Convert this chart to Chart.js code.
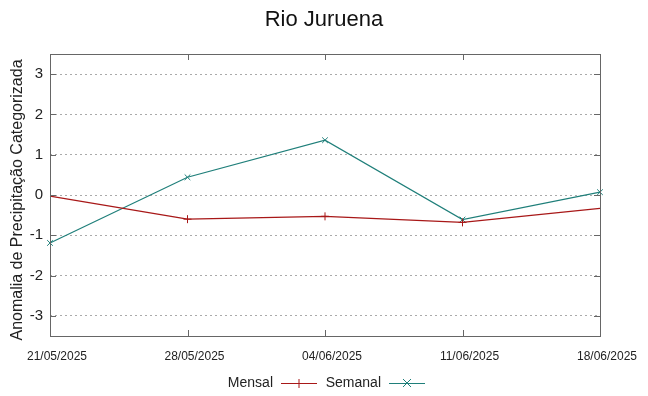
<!DOCTYPE html>
<html>
<head>
<meta charset="utf-8">
<script src="https://cdn.jsdelivr.net/npm/chart.js@4.4.1/dist/chart.umd.min.js"></script>
<style>
  html, body { margin: 0; padding: 0; background: #fff; }
  #wrap { width: 648px; height: 396px; }
</style>
</head>
<body>
<div id="wrap"><canvas id="chart" width="648" height="396"></canvas></div>
<script>
// ====== Data ======
const dates = ['21/05/2025', '28/05/2025', '04/06/2025', '11/06/2025', '18/06/2025'];
const mensal = [-0.03, -0.60, -0.53, -0.68, -0.33];
const semanal = [-1.19, 0.44, 1.36, -0.61, 0.07];
const yTicks = [-3, -2, -1, 0, 1, 2, 3];
const chartTitle = 'Rio Juruena';
const yTitle = 'Anomalia de Precipitação Categorizada';

const RED = '#a81818';
const TEAL = '#1f7f7a';
const FONT = "'Liberation Sans', Arial, sans-serif";

// ====== Title, frame, inward ticks and gnuplot-style legend ======
const gnuplotFrame = {
    id: 'gnuplotFrame',
    afterDatasetsDraw(chart) {
        const { ctx, chartArea: a, scales } = chart;
        ctx.save();

        // titles
        ctx.fillStyle = '#111';
        ctx.textAlign = 'center';
        ctx.textBaseline = 'middle';
        ctx.font = '22px ' + FONT;
        ctx.fillText(chartTitle, 324, 20);
        ctx.save();
        ctx.translate(18, 200);
        ctx.rotate(-Math.PI / 2);
        ctx.font = '16px ' + FONT;
        ctx.fillStyle = '#222';
        ctx.fillText(yTitle, 0, 0);
        ctx.restore();

        // frame
        ctx.strokeStyle = '#666';
        ctx.lineWidth = 1;
        ctx.strokeRect(a.left + 0.5, a.top + 0.5, a.right - a.left, a.bottom - a.top);
        ctx.beginPath();
        yTicks.forEach(v => {
            const y = Math.round(scales.y.getPixelForValue(v)) + 0.5;
            ctx.moveTo(a.left, y); ctx.lineTo(a.left + 6, y);
            ctx.moveTo(a.right, y); ctx.lineTo(a.right - 6, y);
        });
        dates.forEach((d, i) => {
            const x = Math.round(scales.x.getPixelForValue(i)) + 0.5;
            ctx.moveTo(x, a.bottom); ctx.lineTo(x, a.bottom - 6);
            ctx.moveTo(x, a.top); ctx.lineTo(x, a.top + 6);
        });
        ctx.stroke();

        // legend
        ctx.font = '14px ' + FONT;
        ctx.textBaseline = 'middle';
        ctx.textAlign = 'right';
        const ly = 383;
        const items = [
            { x: 273, ds: chart.data.datasets[0], mark: '+' },
            { x: 381, ds: chart.data.datasets[1], mark: 'x' }
        ];
        items.forEach(it => {
            ctx.fillStyle = '#222';
            ctx.fillText(it.ds.label, it.x, ly);
            const x0 = it.x + 8, x1 = it.x + 44, xm = (x0 + x1) / 2;
            ctx.strokeStyle = it.ds.borderColor;
            ctx.lineWidth = 1;
            ctx.beginPath();
            ctx.moveTo(x0, ly + 0.5); ctx.lineTo(x1, ly + 0.5);
            if (it.mark === '+') {
                ctx.moveTo(xm, ly - 4); ctx.lineTo(xm, ly + 5);
            } else {
                ctx.moveTo(xm - 4, ly - 4); ctx.lineTo(xm + 4, ly + 4);
                ctx.moveTo(xm + 4, ly - 4); ctx.lineTo(xm - 4, ly + 4);
            }
            ctx.stroke();
        });
        ctx.restore();
    }
};

new Chart(document.getElementById('chart'), {
    type: 'line',
    data: {
        labels: dates,
        datasets: [{
            label: 'Mensal',
            data: mensal,
            borderColor: RED,
            backgroundColor: RED,
            borderWidth: 1.2,
            tension: 0,
            pointStyle: 'cross',
            pointRadius: [0, 4, 4, 4, 0],
            pointBorderWidth: 1
        }, {
            label: 'Semanal',
            data: semanal,
            borderColor: TEAL,
            backgroundColor: TEAL,
            borderWidth: 1.2,
            tension: 0,
            pointStyle: 'crossRot',
            pointRadius: 4,
            pointBorderWidth: 1
        }]
    },
    options: {
        responsive: false,
        animation: false,
        layout: { padding: { left: 0, right: 48, top: 54, bottom: 30 } },
        plugins: {
            legend: { display: false },
            tooltip: { enabled: false },
            title: { display: false }
        },
        scales: {
            x: {
                type: 'category',
                offset: false,
                grid: { display: false, drawTicks: false },
                border: { display: false },
                ticks: {
                    color: '#222',
                    font: { family: FONT, size: 12 },
                    maxRotation: 0,
                    autoSkip: false,
                    padding: 13,
                    labelOffset: 7
                },
                afterFit(s) { s.height = 30; }
            },
            y: {
                min: -3.5,
                max: 3.5,
                afterBuildTicks(s) { s.ticks = yTicks.map(v => ({ value: v })); },
                grid: {
                    color: '#aaa',
                    lineWidth: 1,
                    drawTicks: false
                },
                border: { display: false, dash: [2, 3] },
                ticks: {
                    color: '#222',
                    font: { family: FONT, size: 15 },
                    padding: 7
                },
                afterFit(s) { s.width = 50; }
            }
        }
    },
    plugins: [gnuplotFrame]
});
</script>
</body>
</html>
